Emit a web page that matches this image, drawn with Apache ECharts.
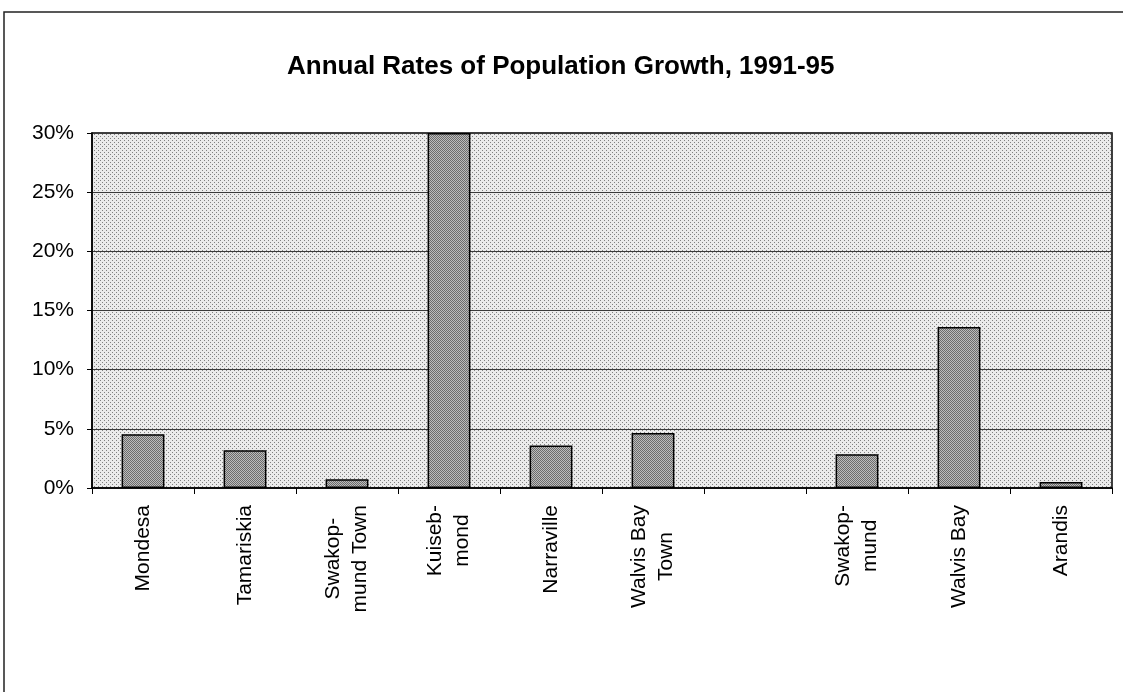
<!DOCTYPE html>
<html>
<head>
<meta charset="utf-8">
<script src="https://cdn.jsdelivr.net/npm/echarts@6/dist/echarts.min.js"></script>
<style>
  html, body { margin: 0; padding: 0; background: #fff; }
  #chart { width: 1123px; height: 692px; }
</style>
</head>
<body>
<div id="chart"></div>
<script>
// places along the coast (one empty slot between the two groups)
const categories = ['Mondesa', 'Tamariskia', 'Swakop-\nmund Town', 'Kuiseb-\nmond', 'Narraville',
  'Walvis Bay\nTown', '', 'Swakop-\nmund', 'Walvis Bay', 'Arandis']
// annual growth rate, percent
const growthRates = [4.55, 3.2, 0.75, 30, 3.6, 4.65, null, 2.85, 13.6, 0.5]
const yTicks = [0, 5, 10, 15, 20, 25, 30]

const font = '"Liberation Sans", Arial, Helvetica, sans-serif'

// small dotted tiles, like the halftone shading of the original
function dotTile(size, bg, dot, dots) {
  const c = document.createElement('canvas')
  c.width = c.height = size
  const ctx = c.getContext('2d')
  ctx.fillStyle = bg
  ctx.fillRect(0, 0, size, size)
  ctx.fillStyle = dot
  dots.forEach(p => ctx.fillRect(p[0], p[1], 1, 1))
  return c
}
const plotFill = { image: dotTile(4, '#ebebeb', '#808080', [[0, 0], [2, 2]]), repeat: 'repeat' }
const barFill = { image: dotTile(2, '#bcbcbc', '#6c6c6c', [[0, 0], [1, 1]]), repeat: 'repeat' }

const myChart = echarts.init(document.getElementById('chart'))
myChart.setOption({
  animation: false,
  title: {
    text: 'Annual Rates of Population Growth, 1991-95',
    left: 282,
    top: 49,
    textStyle: { fontFamily: font, fontSize: 26, fontWeight: 'bold', color: '#000' }
  },
  graphic: [
    {
      type: 'rect',
      shape: { x: 4, y: 12, width: 1200, height: 800 },
      style: { fill: null, stroke: '#222', lineWidth: 1.5 },
      silent: true
    }
  ],
  grid: {
    left: 92,
    right: 11,
    top: 133,
    bottom: 204,
    show: true,
    backgroundColor: plotFill,
    borderColor: '#000',
    borderWidth: 1.5
  },
  xAxis: {
    type: 'category',
    data: categories,
    axisLine: { lineStyle: { color: '#000', width: 1.5 } },
    axisTick: { show: true, length: 6, lineStyle: { color: '#000' } },
    axisLabel: {
      rotate: 90,
      interval: 0,
      margin: 17,
      formatter: v => v.split('\n').map(s => '{c|' + s + '}').join('\n'),
      rich: {
        c: { align: 'center', fontFamily: font, fontSize: 21, lineHeight: 27, color: '#000' }
      }
    }
  },
  yAxis: {
    type: 'value',
    min: yTicks[0],
    max: yTicks[yTicks.length - 1],
    interval: yTicks[1] - yTicks[0],
    axisLine: { show: true, lineStyle: { color: '#000', width: 1.5 } },
    axisTick: { show: true, length: 5, lineStyle: { color: '#000' } },
    axisLabel: {
      formatter: '{value}%',
      margin: 18,
      fontFamily: font,
      fontSize: 21,
      color: '#000'
    },
    splitLine: { lineStyle: { color: '#3a3a3a', width: 1 } }
  },
  series: [
    {
      type: 'bar',
      data: growthRates,
      barWidth: '42%',
      itemStyle: { color: barFill, borderColor: '#000', borderWidth: 1.5 }
    }
  ]
})
</script>
</body>
</html>
